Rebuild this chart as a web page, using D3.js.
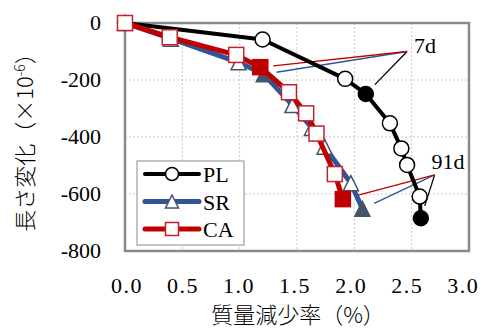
<!DOCTYPE html>
<html>
<head>
<meta charset="utf-8">
<script src="https://cdn.jsdelivr.net/npm/d3@7"></script>
<style>
  body { margin: 0; background: #fff; }
  svg { display: block; }
</style>
</head>
<body>
<svg id="chart" width="485" height="329"></svg>
<script>
// axis ticks
const xTicks = [0, 0.5, 1.0, 1.5, 2.0, 2.5, 3.0];
const yTicks = [0, -200, -400, -600, -800];

// series: mass loss (%) and length change (x10^-6)
const seriesNames = ['PL', 'SR', 'CA'];
const plMass = [0, 1.2, 1.92, 2.1, 2.31, 2.41, 2.46, 2.57, 2.58];
const plLen = [0, -58, -196, -249, -352, -440, -498, -609, -685];
const srMass = [0, 0.4, 0.99, 1.21, 1.46, 1.63, 1.74, 1.97, 2.07];
const srLen = [0, -55, -138, -180, -288, -368, -434, -562, -652];
const caMass = [0, 0.39, 0.97, 1.18, 1.43, 1.58, 1.67, 1.83, 1.9];
const caLen = [0, -50, -112, -155, -243, -317, -388, -530, -618];

// filled markers: 7d and 91d points
const filledIdx = [3, 8];
const annoLabels = ['7d', '91d'];
const annoMass = [2.46, 2.70];
const annoLen = [-100, -533];

const serif = 'Liberation Serif, Times New Roman, DejaVu Serif, serif';
const cjk = 'Noto Sans CJK JP, sans-serif';

const svg = d3.select('#chart');
const x = d3.scaleLinear().domain([0, 3]).range([125, 469]);
const y = d3.scaleLinear().domain([0, -800]).range([23, 251]);

const styles = {
  PL: { line: '#000', width: 4, marker: 'circle', stroke: '#000', fillOn: '#000' },
  SR: { line: '#2F5597', width: 5, marker: 'triangle', stroke: '#44546A', fillOn: '#44546A' },
  CA: { line: '#C00000', width: 5, marker: 'square', stroke: '#C8202A', fillOn: '#C00000' }
};

const series = [
  { name: 'PL', pts: plMass.map((m, i) => ({ m, v: plLen[i], i })) },
  { name: 'SR', pts: srMass.map((m, i) => ({ m, v: srLen[i], i })) },
  { name: 'CA', pts: caMass.map((m, i) => ({ m, v: caLen[i], i })) }
];

function serifText(sel) {
  return sel.attr('font-family', serif).attr('font-size', 22).attr('fill', '#000');
}

// grid
const grid = svg.append('g');
grid.selectAll('line.gx').data(xTicks.slice(1, -1)).join('line')
  .attr('x1', (d) => x(d)).attr('x2', (d) => x(d)).attr('y1', y(0)).attr('y2', y(-800))
  .attr('stroke', '#c8c8c8').attr('stroke-width', 1).attr('stroke-dasharray', '2,2');
grid.selectAll('line.gy').data(yTicks.slice(1, -1)).join('line')
  .attr('x1', x(0)).attr('x2', x(3)).attr('y1', (d) => y(d)).attr('y2', (d) => y(d))
  .attr('stroke', '#c8c8c8').attr('stroke-width', 1).attr('stroke-dasharray', '2,2');

// frame
svg.append('rect').attr('x', x(0)).attr('y', y(0)).attr('width', x(3) - x(0)).attr('height', y(-800) - y(0))
  .attr('fill', 'none').attr('stroke', '#8a8a8a').attr('stroke-width', 2.5);

// tick labels
svg.append('g').selectAll('text').data(yTicks).join('text')
  .call(serifText).attr('x', 101).attr('y', (d) => y(d) + 7)
  .attr('text-anchor', 'end').text((d) => d);
svg.append('g').selectAll('text').data(xTicks).join('text')
  .call(serifText).attr('x', (d, i) => x(d) + 2 - i * 1.3).attr('y', 293)
  .attr('text-anchor', 'middle').attr('letter-spacing', 1.5).text((d) => d.toFixed(1));

// axis titles
svg.append('text').attr('font-family', cjk).attr('font-size', 22).attr('font-weight', 300)
  .attr('x', 298).attr('y', 323).attr('text-anchor', 'middle').text('質量減少率（%）');
const yt = svg.append('text').attr('font-family', cjk).attr('font-size', 22).attr('font-weight', 300)
  .attr('transform', 'translate(33,137) rotate(-90)').attr('text-anchor', 'middle');
yt.append('tspan').text('長さ変化（×10');
yt.append('tspan').attr('dy', -8).attr('font-size', 14).text('-6');
yt.append('tspan').attr('dy', 8).text('）');

// leader lines
const leaders = svg.append('g');
annoLabels.forEach((lab, k) => {
  const ax = x(annoMass[k]);
  const ay = y(annoLen[k]);
  series.forEach((s) => {
    const p = s.pts[filledIdx[k]];
    const px = x(p.m);
    const py = y(p.v);
    const dist = Math.hypot(ax - px, ay - py);
    const sx = px + (ax - px) / dist * 13;
    const sy = py + (ay - py) / dist * 13;
    leaders.append('line').attr('x1', sx).attr('y1', sy).attr('x2', ax).attr('y2', ay)
      .attr('stroke', styles[s.name].line).attr('stroke-width', 1.3);
  });
  svg.append('text').call(serifText)
    .attr('x', ax + (k === 0 ? 7 : -3)).attr('y', ay + (k === 0 ? 1 : -6)).text(lab);
});

// markers
function drawMarker(g, type, cx, cy, fill, stroke, size) {
  if (type === 'circle') {
    g.append('circle').attr('cx', cx).attr('cy', cy).attr('r', size / 2)
      .attr('fill', fill).attr('stroke', stroke).attr('stroke-width', 1.5);
  } else if (type === 'square') {
    g.append('rect').attr('x', cx - size / 2).attr('y', cy - size / 2).attr('width', size).attr('height', size)
      .attr('fill', fill).attr('stroke', stroke).attr('stroke-width', 1.5);
  } else {
    const h = size;
    g.append('path').attr('d', `M${cx},${cy - h / 2}L${cx + h / 2},${cy + h / 2}L${cx - h / 2},${cy + h / 2}Z`)
      .attr('fill', fill).attr('stroke', stroke).attr('stroke-width', 1.5);
  }
}

const line = d3.line().x((d) => x(d.m)).y((d) => y(d.v));
series.forEach((s) => {
  const st = styles[s.name];
  const g = svg.append('g');
  g.append('path').datum(s.pts).attr('d', line).attr('fill', 'none')
    .attr('stroke', st.line).attr('stroke-width', st.width).attr('stroke-linejoin', 'round');
  s.pts.forEach((p) => {
    const filled = filledIdx.includes(p.i);
    drawMarker(g, st.marker, x(p.m), y(p.v), filled ? st.fillOn : '#fff', filled ? st.fillOn : st.stroke, 15);
  });
});

// legend
const leg = svg.append('g');
leg.append('rect').attr('x', 137).attr('y', 161).attr('width', 107).attr('height', 84)
  .attr('fill', '#fff').attr('stroke', '#8a8a8a').attr('stroke-width', 1);
seriesNames.forEach((n, i) => {
  const st = styles[n];
  const ly = 174 + i * 27.5;
  leg.append('line').attr('x1', 145).attr('x2', 199).attr('y1', ly).attr('y2', ly)
    .attr('stroke', st.line).attr('stroke-width', st.width).attr('stroke-linecap', 'round');
  drawMarker(leg, st.marker, 172, ly, '#fff', st.stroke, 13);
  leg.append('text').call(serifText).attr('x', 203).attr('y', ly + 8).text(n);
});
</script>
</body>
</html>
